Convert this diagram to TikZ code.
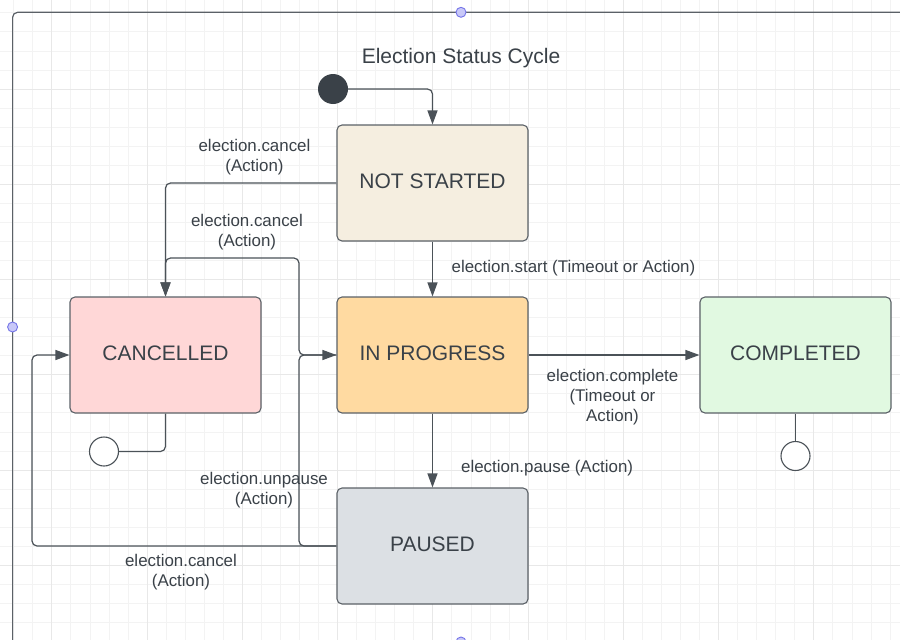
\documentclass[tikz,border=0pt]{standalone}
\usepackage{fontspec}
\setmainfont{Liberation Sans}
\usetikzlibrary{arrows.meta,calc}
\definecolor{txt}{HTML}{3A4148}
\definecolor{ln}{HTML}{4B5258}
\definecolor{bord}{HTML}{5B6167}
\definecolor{nsfill}{HTML}{F5EEE0}
\definecolor{ipfill}{HTML}{FFDAA1}
\definecolor{cpfill}{HTML}{E1F9E1}
\definecolor{cafill}{HTML}{FFD7D7}
\definecolor{pafill}{HTML}{DCE0E4}
\definecolor{dotfill}{HTML}{C8C8F8}
\definecolor{dotline}{HTML}{7474E8}
\definecolor{gridminor}{HTML}{F3F3F3}
\definecolor{gridmajor}{HTML}{E8E8E8}
\tikzset{
  statebox/.style={draw=bord, line width=1.1pt, rounded corners=5pt, minimum width=191pt, minimum height=116pt,
    font=\fontsize{21}{25}\selectfont, text=txt, inner sep=0pt, text depth=4pt},
  edge/.style={draw=ln, line width=1.2pt, rounded corners=5pt, -{Triangle[length=14pt,width=10pt]}},
  plain/.style={draw=ln, line width=1.2pt, rounded corners=5pt},
  lbl/.style={font=\fontsize{16.9}{20}\selectfont, text=txt, align=center, inner sep=0pt},
  finalst/.style={circle, draw=ln, line width=1.1pt, fill=white, minimum size=29pt, inner sep=0pt},
  handle/.style={circle, draw=dotline, line width=0.9pt, fill=dotfill, minimum size=10pt, inner sep=0pt},
}
\begin{document}
\begin{tikzpicture}[x=1pt,y=-1pt]
\useasboundingbox (0,0) rectangle (900,640);
\clip (0,0) rectangle (900,640);
\fill[white] (0,0) rectangle (900,640);
% grid
\foreach \k in {0,...,47} {
  \draw[gridminor, line width=0.8pt] ({13.7+19.05*\k},0) -- ({13.7+19.05*\k},640);
}
\foreach \k in {0,...,34} {
  \draw[gridminor, line width=0.8pt] (0,{12.8+19.05*\k}) -- (900,{12.8+19.05*\k});
}
\foreach \k in {0,...,9} {
  \draw[gridmajor, line width=0.9pt] ({51.8+95.25*\k},0) -- ({51.8+95.25*\k},640);
}
\foreach \k in {0,...,6} {
  \draw[gridmajor, line width=0.9pt] (0,{-6.25+95.25*\k}) -- (900,{-6.25+95.25*\k});
}
% frame
\draw[draw=bord, line width=1.2pt, rounded corners=5pt] (12.6,660) -- (12.6,12.3) -- (920,12.3);
\node[handle] (h1) at (461,12.3) {};
\node[handle] (h2) at (12.6,327) {};
\node[handle] (h3) at (461,642) {};

% title
\node[lbl, font=\fontsize{21}{25}\selectfont] (title) at (461,58.5) {Election Status Cycle};

% states
\node[circle, fill=txt, minimum size=30pt, inner sep=0pt] (init) at (333,89) {};
\node[statebox, fill=nsfill] (ns) at (432.5,183) {NOT STARTED};
\node[statebox, fill=ipfill] (ip) at (432.5,355) {IN PROGRESS};
\node[statebox, fill=cpfill] (cp) at (795.5,355) {COMPLETED};
\node[statebox, fill=cafill] (ca) at (165.5,355) {CANCELLED};
\node[statebox, fill=pafill] (pa) at (432.5,546) {PAUSED};
\node[finalst] (f1) at (104,451.5) {};
\node[finalst] (f2) at (795.5,456) {};

% junctions
\coordinate (j1) at (299,258);
\coordinate (j2) at (299,355);
\coordinate (j4) at (32,355);

% connectors
\draw[edge] (init) -| (ns.north);
\draw[edge] (ns) -- (ip);
\draw[edge] (ip) -- (cp);
\draw[edge] (ip) -- (pa);
\draw[edge] (ns.west) -| (ca.north);
\draw[edge] (ip.west) -| (j1) -| (ca.north);
\draw[edge] (pa.west) -| (j2) -- (ip.west);
\draw[edge] (pa.west) -| (j4) -- (ca.west);
\draw[plain] (ca.south) |- (f1.east);
\draw[plain] (cp.south) -- (f2.north);

% labels
\node[lbl] (l1) at (254.5,157) {election.cancel\\(Action)};
\node[lbl] (l2) at (247,232.5) {election.cancel\\(Action)};
\node[lbl, anchor=west] (l3) at (451.5,268.5) {election.start (Timeout or Action)};
\node[lbl] (l4) at (612.5,397) {election.complete\\(Timeout or\\Action)};
\node[lbl, anchor=west] (l5) at (461,468.5) {election.pause (Action)};
\node[lbl] (l6) at (264,490.5) {election.unpause\\(Action)};
\node[lbl] (l7) at (181,572.5) {election.cancel\\(Action)};
\end{tikzpicture}
\end{document}
